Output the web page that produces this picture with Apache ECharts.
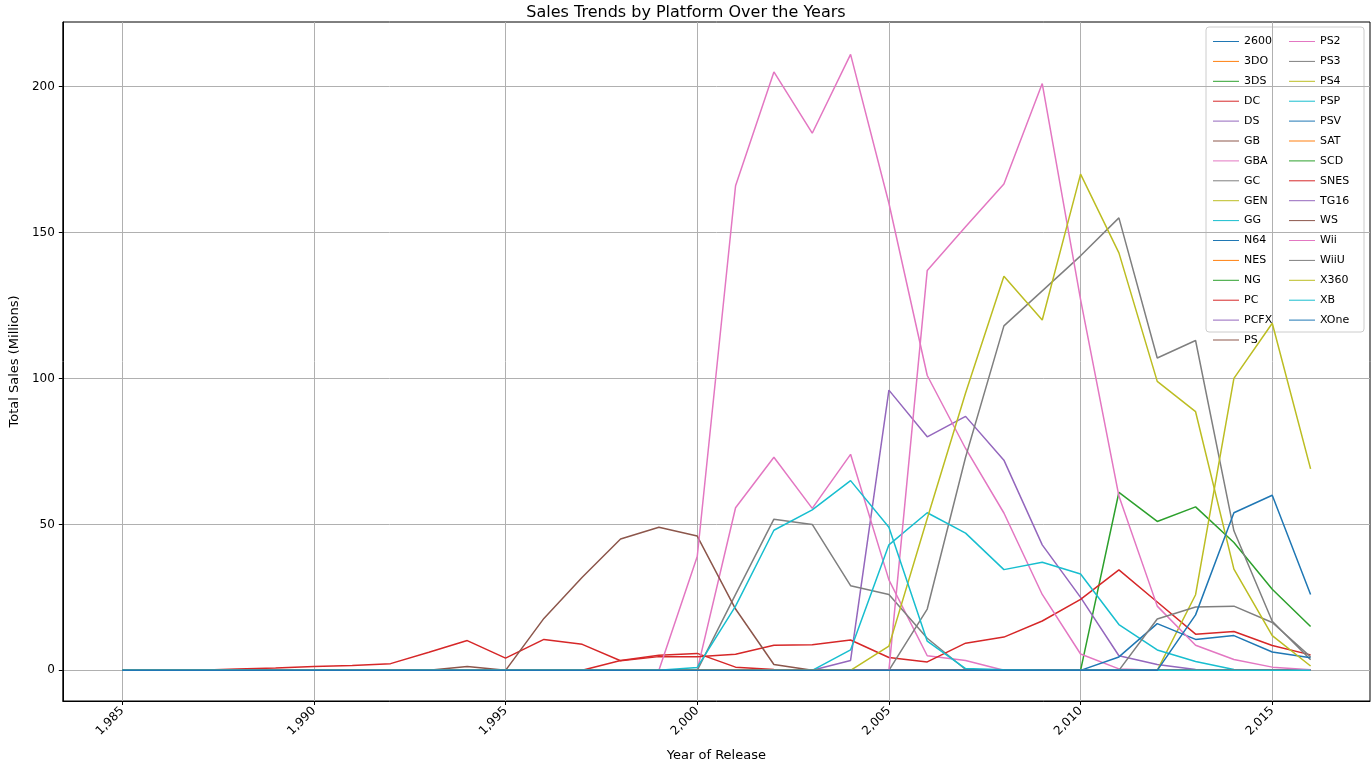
<!DOCTYPE html>
<html><head><meta charset="utf-8">
<script src="https://cdn.jsdelivr.net/npm/echarts@6/dist/echarts.min.js"></script>
<style>html,body{margin:0;padding:0;background:#fff}#c{width:1372px;height:767px}</style>
</head><body><div id="c"></div>
<script>
// years 1985..2016
const years = [];
for (let y = 1985; y <= 2016; y++) years.push(y);

const platforms = ['2600','3DO','3DS','DC','DS','GB','GBA','GC','GEN','GG','N64','NES','NG','PC','PCFX','PS',
  'PS2','PS3','PS4','PSP','PSV','SAT','SCD','SNES','TG16','WS','Wii','WiiU','X360','XB','XOne'];
const colors = ['#1f77b4','#ff7f0e','#2ca02c','#d62728','#9467bd','#8c564b','#e377c2','#7f7f7f','#bcbd22','#17becf'];

// sales by year, from the first listed year; missing years are 0
const salesPC   = [0,0,0,0.5,0.8,1.3,1.7,2.3,6.2,10.2,4.2,10.6,8.9,3.3,4.7,4.7,5.5,8.6,8.8,10.4,4.4,2.9,9.3,11.4,16.9,24.3,34.4,23.4,12.4,13.3,8.5,5.3];
const salesDC   = {1998:[3.4,5.2,5.8,1.1,0.3,0]};
const salesPS   = {1993:[0,1.3,0,17.8,31.9,45,49,46,21,2,0]};
const salesGBA  = {1999:[0,0.07,55.7,73,55.5,74,31,5,3.4,0]};
const salesPS2  = {1999:[0,39,166,205,184,211,160,101,76,53.9,26,5.6,0.5,0]};
const salesGC   = {2000:[0,26,51.8,50,29,26,11,0.3,0]};
const salesXB   = {2000:[1,22,48,55,65,49,10,0.6,0.2,0]};
const salesDS   = {2003:[0,3.4,96,80,87,72,43,25,5,2,0.3,0]};
const salesPSP  = {2003:[0,7,43,54,47,34.5,37,33,15.7,7,3,0.3,0.1,0]};
const salesX360 = {2004:[0,8.3,52,95,135,120,170,143,99,88.6,34.7,11.9,1.5]};
const salesPS3  = {2005:[0,21,73,118,130,142,155,107,113,47.8,16.8,3.6]};
const salesWii  = {2005:[0,137,152,166.6,201,127,59.7,22,8.6,3.7,1.1,0.2]};
const sales3DS  = {2010:[0,61,51,56,43.8,27.8,15]};
const salesPSV  = {2010:[0,4.6,16,10.6,11.9,6.3,4.3]};
const salesWiiU = {2011:[0,17.6,21.7,22,16.4,4.6]};
const salesPS4  = {2012:[0,25.9,100,118.9,69]};
const salesXOne = {2012:[0,19,54,60,26]};

const known = {PC: salesPC, DC: salesDC, PS: salesPS, GBA: salesGBA, PS2: salesPS2, GC: salesGC, XB: salesXB,
  DS: salesDS, PSP: salesPSP, X360: salesX360, PS3: salesPS3, Wii: salesWii, '3DS': sales3DS, PSV: salesPSV,
  WiiU: salesWiiU, PS4: salesPS4, XOne: salesXOne};

function full(p) {
  const s = known[p];
  const out = years.map(() => 0);
  if (!s) return out;
  if (Array.isArray(s)) return s.slice();
  const start = +Object.keys(s)[0];
  s[start].forEach((v, i) => { const k = start - 1985 + i; if (k >= 0 && k < out.length) out[k] = v; });
  return out;
}

const series = platforms.map((p, i) => ({
  name: p, type: 'line', showSymbol: false, symbol: 'none',
  lineStyle: { width: 1.5 }, color: colors[i % 10],
  data: full(p).map((v, k) => [years[k], v])
}));

const fontF = 'DejaVu Sans';
const legendBase = {
  orient: 'vertical', itemWidth: 26, itemHeight: 10, itemGap: 8.9,
  textStyle: { fontSize: 11, fontFamily: fontF, color: '#000' },
  icon: 'path://M0,4.5 L26,4.5 L26,5.5 L0,5.5 Z'
};

const chart = echarts.init(document.getElementById('c'));
chart.setOption({
  animation: false,
  textStyle: { fontFamily: fontF },
  title: { text: 'Sales Trends by Platform Over the Years', left: 'center', top: 0,
    textStyle: { fontSize: 16, fontWeight: 'normal', color: '#000', fontFamily: fontF } },
  grid: { left: 57, right: 2, top: 22, bottom: 61, containLabel: false,
    show: true, borderColor: '#000', borderWidth: 1 },
  legend: [
    Object.assign({ left: 1208, top: 31, data: platforms.slice(0, 16) }, legendBase),
    Object.assign({ left: 1284, top: 31, data: platforms.slice(16) }, legendBase)
  ],
  graphic: [{ type: 'rect', shape: { x: 1206, y: 27, width: 158, height: 305, r: 3 },
    style: { fill: 'rgba(255,255,255,0.8)', stroke: '#ccc', lineWidth: 1 }, z: 0 }],
  xAxis: {
    type: 'value', min: 1983.45, max: 2017.55,
    name: 'Year of Release', nameLocation: 'middle', nameGap: 48,
    nameTextStyle: { fontSize: 13, color: '#000' },
    axisLine: { onZero: false, lineStyle: { color: '#000' } },
    axisTick: { length: 4, lineStyle: { color: '#000' }, customValues: [1985,1990,1995,2000,2005,2010,2015] },
    axisLabel: { color: '#000', fontSize: 12, rotate: 45, customValues: [1985,1990,1995,2000,2005,2010,2015] },
    splitLine: { show: true, lineStyle: { color: '#b0b0b0', width: 1 } }
  },
  yAxis: {
    type: 'value', min: -10.5, max: 222.1,
    name: 'Total Sales (Millions)', nameLocation: 'middle', nameGap: 38,
    nameTextStyle: { fontSize: 13, color: '#000' },
    axisLine: { show: true, lineStyle: { color: '#000' } },
    axisTick: { show: true, length: 4, lineStyle: { color: '#000' }, customValues: [0,50,100,150,200] },
    axisLabel: { color: '#000', fontSize: 12, customValues: [0,50,100,150,200] },
    splitLine: { show: true, lineStyle: { color: '#b0b0b0', width: 1 } }
  },
  series: series
});
</script></body></html>
